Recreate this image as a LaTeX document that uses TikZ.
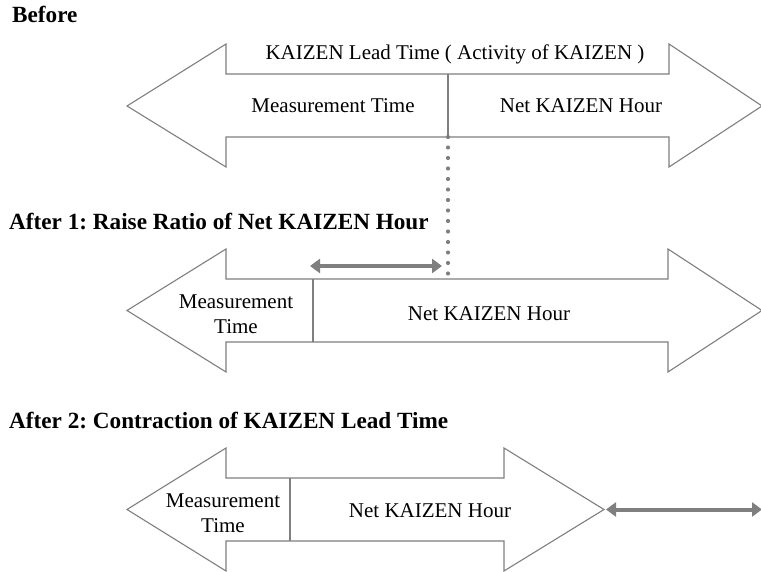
\documentclass[tikz,border=0pt]{standalone}
\usepackage{fontspec}
\setmainfont{Liberation Serif}
\usetikzlibrary{arrows.meta}
\frenchspacing
\definecolor{linegray}{HTML}{7F7F7F}
\tikzset{
  bigarrow/.style={draw=linegray, line width=1.1pt, fill=white, line join=miter},
  divider/.style={draw=linegray, line width=2pt},
  heading/.style={anchor=base west, inner sep=0pt, font=\fontsize{23.2}{27}\bfseries\selectfont},
  lbl/.style={inner sep=0pt, font=\fontsize{21}{25}\selectfont, align=center},
  baselbl/.style={lbl, anchor=base},
  shiftarrow/.style={draw=linegray, line width=4pt, {Triangle[length=10pt,width=14pt]}-{Triangle[length=10pt,width=14pt]}},
  dots/.style={draw=linegray, line width=4.2pt, line cap=round, dash pattern=on 0pt off 10.5pt}
}
\begin{document}
\begin{tikzpicture}[x=1pt,y=-1pt]
\useasboundingbox (0,0) rectangle (761,572);
% headings
\node[heading] (h0) at (12,23) {Before};
\node[heading] (h1) at (9,230) {After 1: Raise Ratio of Net KAIZEN Hour};
\node[heading] (h2) at (9,428) {After 2: Contraction of KAIZEN Lead Time};
% Before arrow
\draw[bigarrow] (127,106) -- (226,44) -- (226,74) -- (669,74) -- (669,44) -- (762,106)
  -- (669,167) -- (669,137) -- (226,137) -- (226,167) -- cycle;
\coordinate (d0t) at (448,74);
\coordinate (d0b) at (448,137);
\draw[divider] (d0t) -- (d0b);
\node[baselbl] (t0) at (455,60) {KAIZEN Lead Time ( Activity of KAIZEN )};
\node[baselbl] (m0) at (333,113) {Measurement Time};
\node[baselbl] (n0) at (581,113) {Net KAIZEN Hour};
% After 1 arrow
\draw[bigarrow] (127,310.5) -- (226,249) -- (226,279) -- (668,279) -- (668,249) -- (762,310.5)
  -- (668,372) -- (668,342) -- (226,342) -- (226,372) -- cycle;
\coordinate (d1t) at (313,279);
\coordinate (d1b) at (313,342);
\draw[divider] (d1t) -- (d1b);
\node[lbl] (m1) at (236,314) {Measurement\\Time};
\node[baselbl] (n1) at (489,320) {Net KAIZEN Hour};
\coordinate (dotend) at (448,275);
\draw[dots] (d0b) -- (dotend);
\coordinate (s1a) at (310,266);
\coordinate (s1b) at (442,266);
\draw[shiftarrow] (s1a) -- (s1b);
% After 2 arrow
\draw[bigarrow] (127,509.5) -- (226,448) -- (226,478) -- (504,478) -- (504,448) -- (604,509.5)
  -- (504,571) -- (504,541) -- (226,541) -- (226,571) -- cycle;
\coordinate (d2t) at (290,478);
\coordinate (d2b) at (290,541);
\draw[divider] (d2t) -- (d2b);
\node[lbl] (m2) at (223,513) {Measurement\\Time};
\node[baselbl] (n2) at (430,517) {Net KAIZEN Hour};
\coordinate (s2a) at (606,509.5);
\coordinate (s2b) at (762,509.5);
\draw[shiftarrow] (s2a) -- (s2b);
\end{tikzpicture}
\end{document}
